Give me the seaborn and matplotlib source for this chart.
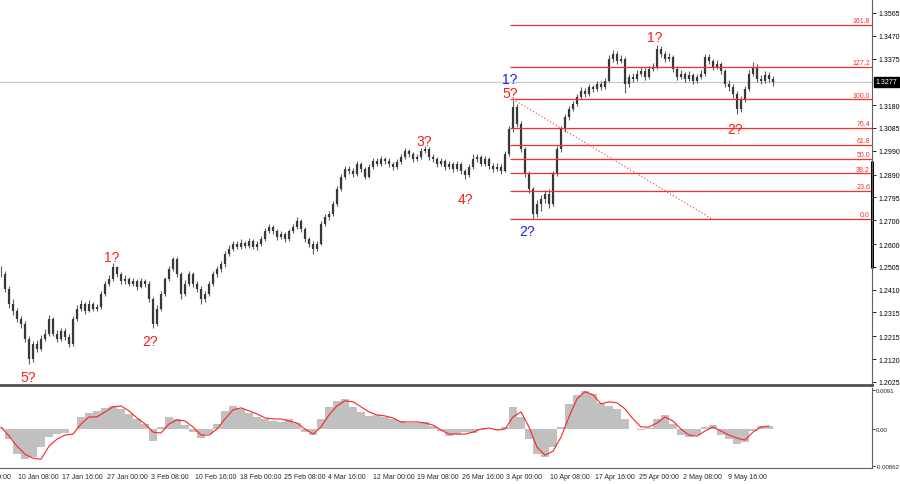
import numpy as np
import matplotlib
matplotlib.use("Agg")
import matplotlib.pyplot as plt
import matplotlib.transforms as mtransforms
import seaborn as sns

# price path, one candle per ~12h
closes = [
    1.2476, 1.2413, 1.2351, 1.2321, 1.2288, 1.2267, 1.2204, 1.2121, 1.2183, 1.2163,
    1.2204, 1.2226, 1.2288, 1.2226, 1.2204, 1.2238, 1.2213, 1.2183, 1.2288, 1.2330,
    1.2351, 1.2321, 1.2351, 1.2330, 1.2338, 1.2392, 1.2434, 1.2455, 1.2505, 1.2476,
    1.2446, 1.2455, 1.2434, 1.2446, 1.2421, 1.2446, 1.2434, 1.2371, 1.2267, 1.2330,
    1.2392, 1.2455, 1.2496, 1.2538, 1.2476, 1.2392, 1.2434, 1.2476, 1.2434, 1.2413,
    1.2371, 1.2392, 1.2434, 1.2476, 1.2496, 1.2517, 1.2559, 1.2580, 1.2601, 1.2588,
    1.2605, 1.2593, 1.2613, 1.2588, 1.2601, 1.2622, 1.2655, 1.2672, 1.2655, 1.2630,
    1.2643, 1.2622, 1.2655, 1.2672, 1.2697, 1.2663, 1.2622, 1.2601, 1.2580, 1.2601,
    1.2684, 1.2714, 1.2726, 1.2768, 1.2830, 1.2881, 1.2914, 1.2906, 1.2893, 1.2935,
    1.2914, 1.2881, 1.2922, 1.2947, 1.2935, 1.2956, 1.2947, 1.2935, 1.2922, 1.2943,
    1.2964, 1.2989, 1.2977, 1.2956, 1.2964, 1.2989, 1.2997, 1.2964, 1.2956, 1.2935,
    1.2947, 1.2922, 1.2935, 1.2914, 1.2935, 1.2906, 1.2889, 1.2922, 1.2956, 1.2964,
    1.2935, 1.2956, 1.2927, 1.2914, 1.2922, 1.2906, 1.2977, 1.3081, 1.3173, 1.3102,
    1.2997, 1.2893, 1.2830, 1.2726, 1.2768, 1.2789, 1.2810, 1.2768, 1.2893, 1.2997,
    1.3081, 1.3131, 1.3164, 1.3185, 1.3214, 1.3240, 1.3227, 1.3256, 1.3248, 1.3269,
    1.3256, 1.3281, 1.3373, 1.3394, 1.3365, 1.3373, 1.3269, 1.3298, 1.3290, 1.3310,
    1.3323, 1.3298, 1.3331, 1.3340, 1.3415, 1.3394, 1.3373, 1.3381, 1.3331, 1.3298,
    1.3310, 1.3290, 1.3306, 1.3281, 1.3298, 1.3310, 1.3381, 1.3365, 1.3340, 1.3352,
    1.3323, 1.3269, 1.3256, 1.3227, 1.3164, 1.3206, 1.3248, 1.3310, 1.3340, 1.3290,
    1.3281, 1.3306, 1.3290, 1.3277,
]
highs = [
    1.2510, 1.2490, 1.2425, 1.2370, 1.2335, 1.2300, 1.2280, 1.2215, 1.2195, 1.2200,
    1.2220, 1.2245, 1.2305, 1.2295, 1.2240, 1.2250, 1.2250, 1.2225, 1.2300, 1.2345,
    1.2365, 1.2360, 1.2365, 1.2360, 1.2350, 1.2405, 1.2445, 1.2470, 1.2520, 1.2510,
    1.2485, 1.2470, 1.2465, 1.2460, 1.2455, 1.2460, 1.2455, 1.2445, 1.2380, 1.2345,
    1.2405, 1.2465, 1.2510, 1.2545, 1.2545, 1.2485, 1.2450, 1.2490, 1.2485, 1.2445,
    1.2425, 1.2405, 1.2445, 1.2490, 1.2510, 1.2530, 1.2570, 1.2595, 1.2615, 1.2612,
    1.2620, 1.2615, 1.2625, 1.2622, 1.2612, 1.2635, 1.2668, 1.2685, 1.2680, 1.2662,
    1.2655, 1.2652, 1.2665, 1.2685, 1.2714, 1.2705, 1.2672, 1.2630, 1.2612, 1.2615,
    1.2695, 1.2728, 1.2740, 1.2780, 1.2842, 1.2895, 1.2925, 1.2928, 1.2918, 1.2948,
    1.2945, 1.2922, 1.2935, 1.2960, 1.2958, 1.2968, 1.2965, 1.2958, 1.2945, 1.2955,
    1.2975, 1.3000, 1.2998, 1.2985, 1.2978, 1.3000, 1.3010, 1.3005, 1.2975, 1.2965,
    1.2960, 1.2955, 1.2948, 1.2945, 1.2948, 1.2945, 1.2915, 1.2935, 1.2975, 1.2978,
    1.2972, 1.2968, 1.2965, 1.2940, 1.2938, 1.2935, 1.2990, 1.3095, 1.3200, 1.3185,
    1.3115, 1.3005, 1.2905, 1.2840, 1.2785, 1.2805, 1.2825, 1.2830, 1.2905, 1.3010,
    1.3095, 1.3145, 1.3178, 1.3198, 1.3228, 1.3255, 1.3252, 1.3268, 1.3265, 1.3282,
    1.3280, 1.3295, 1.3390, 1.3412, 1.3405, 1.3388, 1.3380, 1.3312, 1.3315, 1.3325,
    1.3338, 1.3335, 1.3345, 1.3355, 1.3432, 1.3428, 1.3405, 1.3398, 1.3390, 1.3342,
    1.3325, 1.3320, 1.3322, 1.3315, 1.3312, 1.3325, 1.3395, 1.3392, 1.3375, 1.3368,
    1.3362, 1.3332, 1.3285, 1.3268, 1.3238, 1.3220, 1.3262, 1.3325, 1.3360, 1.3350,
    1.3305, 1.3322, 1.3318, 1.3300,
]
lows = [
    1.2465, 1.2400, 1.2335, 1.2305, 1.2275, 1.2250, 1.2190, 1.2100, 1.2110, 1.2150,
    1.2155, 1.2195, 1.2215, 1.2215, 1.2190, 1.2195, 1.2200, 1.2170, 1.2175, 1.2280,
    1.2320, 1.2310, 1.2315, 1.2320, 1.2320, 1.2330, 1.2385, 1.2425, 1.2445, 1.2465,
    1.2435, 1.2435, 1.2425, 1.2425, 1.2410, 1.2415, 1.2420, 1.2360, 1.2250, 1.2260,
    1.2320, 1.2385, 1.2445, 1.2490, 1.2465, 1.2370, 1.2385, 1.2425, 1.2420, 1.2400,
    1.2350, 1.2360, 1.2385, 1.2425, 1.2465, 1.2485, 1.2505, 1.2550, 1.2570, 1.2578,
    1.2580, 1.2582, 1.2585, 1.2578, 1.2575, 1.2592, 1.2615, 1.2645, 1.2642, 1.2618,
    1.2620, 1.2610, 1.2615, 1.2645, 1.2665, 1.2652, 1.2610, 1.2590, 1.2559, 1.2570,
    1.2595, 1.2675, 1.2700, 1.2718, 1.2760, 1.2822, 1.2872, 1.2895, 1.2880, 1.2885,
    1.2902, 1.2870, 1.2875, 1.2915, 1.2925, 1.2928, 1.2936, 1.2922, 1.2910, 1.2915,
    1.2935, 1.2955, 1.2965, 1.2945, 1.2948, 1.2955, 1.2980, 1.2952, 1.2942, 1.2922,
    1.2925, 1.2910, 1.2912, 1.2900, 1.2905, 1.2895, 1.2872, 1.2880, 1.2915, 1.2945,
    1.2925, 1.2925, 1.2915, 1.2900, 1.2905, 1.2895, 1.2900, 1.2970, 1.3070, 1.3090,
    1.2985, 1.2880, 1.2815, 1.2705, 1.2715, 1.2740, 1.2770, 1.2750, 1.2760, 1.2885,
    1.2985, 1.3070, 1.3120, 1.3155, 1.3175, 1.3205, 1.3215, 1.3218, 1.3235, 1.3240,
    1.3245, 1.3248, 1.3275, 1.3360, 1.3352, 1.3355, 1.3230, 1.3258, 1.3275, 1.3280,
    1.3300, 1.3285, 1.3290, 1.3322, 1.3332, 1.3382, 1.3360, 1.3365, 1.3318, 1.3285,
    1.3288, 1.3278, 1.3280, 1.3270, 1.3272, 1.3288, 1.3302, 1.3352, 1.3328, 1.3330,
    1.3310, 1.3255, 1.3240, 1.3210, 1.3145, 1.3150, 1.3195, 1.3240, 1.3300, 1.3278,
    1.3268, 1.3272, 1.3278, 1.3260,
]

# MACD panel, one value per two candles
macd_hist = [
    0.00024, -0.00235, -0.00588, -0.00705, -0.00658, -0.00423, -0.00188, -0.00118, -0.00094, 0.0,
    0.00282, 0.00376, 0.00423, 0.00494, 0.00541, 0.00470, 0.00353, 0.00235, 0.00118, -0.00282,
    0.00047, 0.00282, 0.00235, 0.00094, -0.00071, -0.00212, -0.00118, 0.00118, 0.00423, 0.00541,
    0.00470, 0.00376, 0.00282, 0.00235, 0.00188, 0.00165, 0.00235, 0.00141, -0.00071, -0.00141,
    0.00235, 0.00517, 0.00658, 0.00705, 0.00517, 0.00400, 0.00306, 0.00329, 0.00282, 0.00235,
    0.00188, 0.00141, 0.00141, 0.00165, 0.00071, -0.00047, -0.00165, -0.00118, -0.00071, -0.00094,
    -0.00024, 0.0, -0.00024, 0.00047, 0.00517, 0.00282, -0.00235, -0.00588, -0.00658, -0.00423,
    0.00047, 0.00588, 0.00799, 0.00893, 0.00823, 0.00611, 0.00541, 0.00470, 0.00235, 0.0,
    -0.00024, 0.00024, 0.00235, 0.00329, 0.00118, -0.00141, -0.00188, -0.00141, 0.00047, 0.00094,
    -0.00141, -0.00235, -0.00353, -0.00306, -0.00047, 0.00071, 0.00071,
]
macd_signal = [
    0.00047, -0.00165, -0.00400, -0.00588, -0.00682, -0.00705, -0.00400, -0.00235, -0.00141, -0.00118,
    0.00118, 0.00282, 0.00282, 0.00400, 0.00517, 0.00541, 0.00423, 0.00259, 0.00118, -0.00071,
    -0.00094, 0.00118, 0.00212, 0.00188, 0.00047, -0.00141, -0.00141, 0.0, 0.00235, 0.00447,
    0.00494, 0.00423, 0.00353, 0.00259, 0.00235, 0.00235, 0.00188, 0.00141, 0.0, -0.00118,
    0.00047, 0.00329, 0.00541, 0.00658, 0.00635, 0.00517, 0.00400, 0.00329, 0.00306, 0.00259,
    0.00165, 0.00165, 0.00165, 0.00141, 0.00094, -0.00024, -0.00118, -0.00118, -0.00118, -0.00071,
    0.0, 0.00024, -0.00024, 0.0, 0.00282, 0.00400, 0.00047, -0.00423, -0.00611, -0.00517,
    -0.00188, 0.00282, 0.00705, 0.00870, 0.00799, 0.00588, 0.00635, 0.00611, 0.00470, 0.00235,
    0.00047, 0.00047, 0.00141, 0.00282, 0.00188, 0.0, -0.00141, -0.00165, -0.00047, 0.00047,
    -0.00047, -0.00141, -0.00212, -0.00259, -0.00071, 0.00047, 0.00071,
]

date_labels = ["3 Jan 00:00", "10 Jan 08:00", "17 Jan 16:00", "27 Jan 00:00", "3 Feb 08:00",
               "10 Feb 16:00", "18 Feb 00:00", "25 Feb 08:00", "4 Mar 16:00", "12 Mar 00:00",
               "19 Mar 08:00", "26 Mar 16:00", "3 Apr 00:00", "10 Apr 08:00", "17 Apr 16:00",
               "25 Apr 00:00", "2 May 08:00", "9 May 16:00"]
price_ticks = [1.3565, 1.3470, 1.3375, 1.3180, 1.3085, 1.2990, 1.2890, 1.2795, 1.2700,
               1.2600, 1.2505, 1.2410, 1.2315, 1.2215, 1.2120, 1.2025]
last_price = 1.3277

fib_low, fib_high = 1.2705, 1.3205
fib_levels = [0.0, 23.6, 38.2, 50.0, 61.8, 76.4, 100.0, 127.2, 161.8]

# wave marks: text, candle index, price, colour
RED, BLUE = "#ff1a1a", "#1a1aff"
wave_marks = [
    ("5?", 6.75, 1.2046, RED), ("1?", 27.75, 1.2547, RED), ("2?", 37.25, 1.2196, RED),
    ("3?", 105.75, 1.3031, RED), ("4?", 116.0, 1.2789, RED), ("1?", 127.25, 1.3290, BLUE),
    ("5?", 127.25, 1.3231, RED), ("2?", 131.5, 1.2655, BLUE), ("1?", 163.5, 1.3465, RED),
    ("2?", 183.5, 1.3081, RED),
]

sns.set_style("white")
plt.rcParams["font.family"] = ["Liberation Sans", "DejaVu Sans"]

fig = plt.figure(figsize=(9, 4.85), dpi=100)
W, H = 900, 485
ax = fig.add_axes([0, (H - 386) / H, 872 / W, 386 / H])
ax2 = fig.add_axes([0, (H - 469) / H, 872 / W, 80 / H])

n = len(closes)
x = np.arange(n)
c = np.array(closes)
o = np.r_[c[0], c[:-1]]
XMAX = 217.75

# candles
ax.vlines(x, lows, highs, color="#5c5c5c", lw=0.8)
ax.vlines(x, np.minimum(o, c), np.maximum(o, c), color="#383838", lw=1.6)

# current price line
ax.axhline(last_price, color="#c8c8c8", lw=0.9, zorder=0)

# fibonacci grid
span = fib_high - fib_low
fib_start = 127.25
for lvl in fib_levels:
    yv = fib_low + span * lvl / 100
    ax.hlines(yv, fib_start, XMAX, color="#ff2a2a", lw=0.9)
    ax.text(XMAX - 0.5, yv + 0.0003, f"{lvl:.1f}", color="#ff2a2a", fontsize=5,
            ha="right", va="bottom")
ax.plot([128, 177.75], [fib_high, fib_low], color="#ff3030", lw=0.8,
        linestyle=(0, (1, 2)))

for txt, xi, yi, col in wave_marks:
    ax.text(xi, yi, txt, color=col, fontsize=10, ha="center", va="center")

ax.set_xlim(-0.25, XMAX)
ax.set_ylim(1.20122, 1.36234)
ax.set_xticks([])
ax.yaxis.tick_right()
ax.set_yticks(price_ticks)
ax.set_yticklabels([f"{t:.4f}" for t in price_ticks])
ax.tick_params(axis="y", length=3, width=0.6, pad=1.5, labelsize=5, colors="black")
for s in ["left", "top"]:
    ax.spines[s].set_visible(False)
ax.spines["right"].set_color("#606060")
ax.spines["right"].set_linewidth(0.8)
ax.spines["bottom"].set_color("#505050")
ax.spines["bottom"].set_linewidth(2)

trans = mtransforms.blended_transform_factory(ax.transAxes, ax.transData)
ax.plot([1.0, 1.0], [1.2945, 1.2505], transform=trans, color="black", lw=2.2,
        clip_on=False)
ax.text(1.004, last_price, f"{last_price:.4f}", transform=trans, color="white",
        fontsize=5, ha="left", va="center",
        bbox=dict(facecolor="black", edgecolor="black", pad=1.2))

# MACD
mx = np.arange(len(macd_hist)) * 2
ax2.bar(mx, macd_hist, width=2.0, color="#c0c0c0", linewidth=0)
sns.lineplot(x=mx, y=macd_signal, ax=ax2, color="#ff2020", lw=0.8)
ax2.set_xlim(-0.25, XMAX)
ax2.set_ylim(-0.00909, 0.00957)
ax2.yaxis.tick_right()
ax2.set_yticks([0.0091, 0.0, -0.00862])
ax2.set_yticklabels(["0.0091", "0.00", "-0.00862"])
ax2.tick_params(axis="y", length=2, width=0.6, pad=0.8, labelsize=4.4)

# date axis: tick marks inside the view, labels drawn left-aligned at each tick
date_pos = (18 + 44.35 * np.arange(-1, len(date_labels) - 1) - 1) / 4
ax2.set_xticks(date_pos[date_pos > 0])
ax2.set_xticklabels([])
ax2.tick_params(axis="x", length=3, width=0.6)
xtrans = mtransforms.blended_transform_factory(ax2.transData, ax2.transAxes)
for pos, lab in zip(date_pos, date_labels):
    ax2.text(pos, -0.06, lab, transform=xtrans, ha="left", va="top", fontsize=5,
             clip_on=False)
for s in ["left", "top"]:
    ax2.spines[s].set_visible(False)
for s in ["right", "bottom"]:
    ax2.spines[s].set_color("#606060")
    ax2.spines[s].set_linewidth(0.8)

fig.savefig("out.png", dpi=100)
